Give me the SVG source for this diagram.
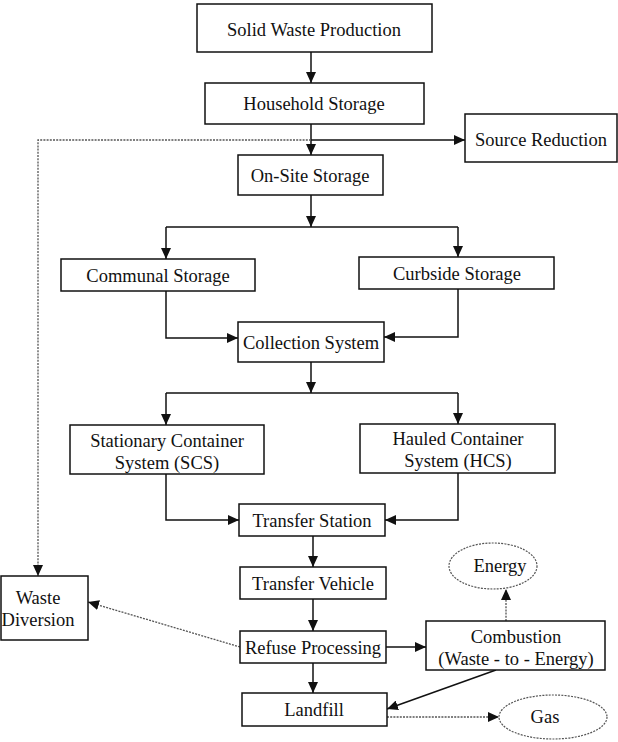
<svg xmlns="http://www.w3.org/2000/svg" width="618" height="742" viewBox="0 0 618 742">
<style>
.box{fill:#fff;stroke:#111;stroke-width:1.5}
.ell{fill:#fff;stroke:#555;stroke-width:1.2;stroke-dasharray:2 1.2}
.t{font-family:"Liberation Serif","Times New Roman",serif;font-size:18.5px;fill:#111;text-anchor:middle}
.c{fill:none;stroke:#111;stroke-width:1.5}
.d{fill:none;stroke:#555;stroke-width:1.3;stroke-dasharray:2 1.2}
</style>
<defs>
<marker id="ah" markerUnits="userSpaceOnUse" markerWidth="11" markerHeight="10" refX="11" refY="5" orient="auto">
<path d="M0,0 L11,5 L0,10 z" fill="#111"/>
</marker>
</defs>
<rect width="618" height="742" fill="#fff"/>
<g id="connectors">
<path class="c" d="M311,52 V83" marker-end="url(#ah)"/>
<path class="c" d="M311,124 V155" marker-end="url(#ah)"/>
<path class="c" d="M311,140 H465" marker-end="url(#ah)"/>
<path class="d" d="M311,140 H38 V576" marker-end="url(#ah)"/>
<path class="c" d="M311,195 V227" marker-end="url(#ah)"/>
<path class="c" d="M166,227 H458"/>
<path class="c" d="M166,227 V259" marker-end="url(#ah)"/>
<path class="c" d="M458,227 V257" marker-end="url(#ah)"/>
<path class="c" d="M166,291 V338 H238" marker-end="url(#ah)"/>
<path class="c" d="M458,289 V337 H384" marker-end="url(#ah)"/>
<path class="c" d="M311,362 V393" marker-end="url(#ah)"/>
<path class="c" d="M166,393 H458"/>
<path class="c" d="M166,393 V425" marker-end="url(#ah)"/>
<path class="c" d="M458,393 V424" marker-end="url(#ah)"/>
<path class="c" d="M166,474 V520 H239" marker-end="url(#ah)"/>
<path class="c" d="M458,473 V520 H385" marker-end="url(#ah)"/>
<path class="c" d="M313,536 V567" marker-end="url(#ah)"/>
<path class="c" d="M313,599 V631" marker-end="url(#ah)"/>
<path class="c" d="M313,663 V693" marker-end="url(#ah)"/>
<path class="c" d="M386,647 H426" marker-end="url(#ah)"/>
<path class="c" d="M496,670 L387,709" marker-end="url(#ah)"/>
<path class="d" d="M506,621 V589" marker-end="url(#ah)"/>
<path class="d" d="M240,647 L88,602" marker-end="url(#ah)"/>
<path class="d" d="M387,717 H499" marker-end="url(#ah)"/>
</g>
<g id="solid-waste-production"><rect class="box" x="197" y="4" width="235" height="48"/><text class="t" x="314" y="36">Solid Waste Production</text></g>
<g id="household-storage"><rect class="box" x="205" y="83" width="219" height="41"/><text class="t" x="314" y="110">Household Storage</text></g>
<g id="source-reduction"><rect class="box" x="465" y="114" width="152" height="48"/><text class="t" x="541" y="146">Source Reduction</text></g>
<g id="on-site-storage"><rect class="box" x="238" y="155" width="145" height="40"/><text class="t" x="310" y="182">On-Site Storage</text></g>
<g id="communal-storage"><rect class="box" x="61" y="259" width="194" height="32"/><text class="t" x="158" y="282">Communal Storage</text></g>
<g id="curbside-storage"><rect class="box" x="359" y="257" width="195" height="32"/><text class="t" x="457" y="280">Curbside Storage</text></g>
<g id="collection-system"><rect class="box" x="238" y="322" width="146" height="40"/><text class="t" x="311" y="349">Collection System</text></g>
<g id="scs"><rect class="box" x="70" y="425" width="194" height="49"/><text class="t" x="167" y="447">Stationary Container</text><text class="t" x="167" y="469">System (SCS)</text></g>
<g id="hcs"><rect class="box" x="360" y="424" width="195" height="49"/><text class="t" x="458" y="445">Hauled Container</text><text class="t" x="458" y="467">System (HCS)</text></g>
<g id="transfer-station"><rect class="box" x="239" y="504" width="146" height="32"/><text class="t" x="312" y="527">Transfer Station</text></g>
<g id="transfer-vehicle"><rect class="box" x="240" y="567" width="146" height="32"/><text class="t" x="313" y="590">Transfer Vehicle</text></g>
<g id="refuse-processing"><rect class="box" x="240" y="631" width="146" height="32"/><text class="t" x="313" y="654">Refuse Processing</text></g>
<g id="combustion"><rect class="box" x="426" y="621" width="179" height="49"/><text class="t" x="516" y="643">Combustion</text><text class="t" x="516" y="665">(Waste - to - Energy)</text></g>
<g id="energy"><ellipse class="ell" cx="493" cy="566" rx="44" ry="23"/><text class="t" x="500" y="572">Energy</text></g>
<g id="waste-diversion"><rect class="box" x="1" y="576" width="87" height="64"/><text class="t" x="38" y="604">Waste</text><text class="t" x="38" y="626">Diversion</text></g>
<g id="landfill"><rect class="box" x="242" y="693" width="145" height="33"/><text class="t" x="314" y="716">Landfill</text></g>
<g id="gas"><ellipse class="ell" cx="553" cy="717" rx="54" ry="22"/><text class="t" x="545" y="723">Gas</text></g>
</svg>
